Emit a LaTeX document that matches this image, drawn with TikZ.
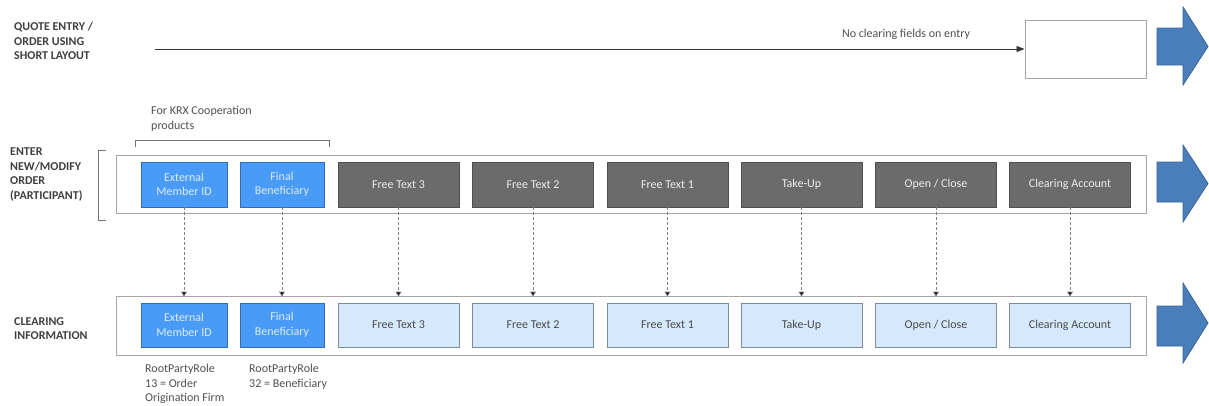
\documentclass[tikz,border=0pt]{standalone}
\usepackage{fontspec}
\setmainfont{Carlito}
\usetikzlibrary{arrows.meta}
\definecolor{bluefill}{HTML}{4A9AF8}
\definecolor{bluedraw}{HTML}{2E6DB8}
\definecolor{bluetext}{HTML}{DCEEFF}
\definecolor{greyfill}{HTML}{6B6B6B}
\definecolor{greydraw}{HTML}{4F4F4F}
\definecolor{greytext}{HTML}{EDEDED}
\definecolor{lightfill}{HTML}{D6E9FC}
\definecolor{lightdraw}{HTML}{7D8A99}
\definecolor{lighttext}{HTML}{4A4A4A}
\definecolor{outerdraw}{HTML}{A6A6A6}
\definecolor{arrowfill}{HTML}{4A7EBB}
\definecolor{arrowdraw}{HTML}{3A6597}
\definecolor{labeltext}{HTML}{3F3F3F}
\definecolor{plaintext}{HTML}{505050}
\begin{document}
\begin{tikzpicture}[x=1pt,y=-1pt,
  every node/.style={font=\fontsize{12}{14.5}\selectfont, inner sep=0pt},
  field/.style={rectangle, minimum height=45pt, align=center, line width=0.8pt},
  bluebox/.style={field, fill=bluefill, draw=bluedraw, text=bluetext},
  greybox/.style={field, fill=greyfill, draw=greydraw, text=greytext},
  lightbox/.style={field, fill=lightfill, draw=lightdraw, text=lighttext, minimum height=44pt},
  outer/.style={rectangle, draw=outerdraw, line width=1pt},
  rowlabel/.style={anchor=north west, align=left, text=labeltext, font=\fontsize{12}{14.5}\selectfont\bfseries},
  note/.style={anchor=north west, align=left, text=plaintext},
  bigarrow/.style={fill=arrowfill, draw=arrowdraw, line width=0.8pt, line join=miter},
  dashconn/.style={draw=gray, dash pattern=on 3pt off 2pt, line width=0.8pt, -{Triangle[width=6pt,length=5pt,fill=black]}, shorten >=6pt},
  brace/.style={draw=gray!90!black, line width=0.8pt}
]
\useasboundingbox (0,0) rectangle (1209,405);

% ---------- row 1: quote entry ----------
\node[rowlabel] (l1) at (14,22) {QUOTE ENTRY /\\ORDER USING\\SHORT LAYOUT};
\node[outer, minimum width=121pt, minimum height=58pt] (qbox) at (1085.5,49) {};
\coordinate (qstart) at (155,49);
\draw[line width=0.8pt, draw=black!80, -{Triangle[width=6pt,length=8pt]}] (qstart) -- (qbox.west);
\node[anchor=base, text=plaintext] (qlbl) at (906,37) {No clearing fields on entry};
\fill[bigarrow] (1157,28) -- (1183,28) -- (1183,7) -- (1208,46.5) -- (1183,85) -- (1183,65) -- (1157,65) -- cycle;

% ---------- row 2: enter new/modify order ----------
\node[note] (krx) at (151,106) {For KRX Cooperation\\products};
\draw[brace] (135,147) -- (135,140) -- (329,140) -- (329,147);
\node[rowlabel] (l2) at (10,148) {ENTER\\NEW/MODIFY\\ORDER\\(PARTICIPANT)};
\draw[brace] (106,150) -- (98,150) -- (98,220) -- (106,220);
\node[outer, minimum width=1030pt, minimum height=58pt] (orow) at (631,184) {};

\node[bluebox, minimum width=86pt] (a1) at (184,184.5) {External\\Member ID};
\node[bluebox, minimum width=84pt] (a2) at (282,184.5) {Final\\Beneficiary};
\node[greybox, minimum width=121pt] (a3) at (398.5,184.5) {Free Text 3};
\node[greybox, minimum width=121pt] (a4) at (533,184.5) {Free Text 2};
\node[greybox, minimum width=121pt] (a5) at (667.5,184.5) {Free Text 1};
\node[greybox, minimum width=121pt] (a6) at (801.5,184.5) {Take-Up};
\node[greybox, minimum width=121pt] (a7) at (936,184.5) {Open / Close};
\node[greybox, minimum width=121pt] (a8) at (1070,184.5) {Clearing Account};
\fill[bigarrow] (1157,162) -- (1183,162) -- (1183,145) -- (1208,183.5) -- (1183,222) -- (1183,202) -- (1157,202) -- cycle;

% ---------- row 3: clearing information ----------
\node[rowlabel] (l3) at (14,317) {CLEARING\\INFORMATION};
\node[outer, minimum width=1030pt, minimum height=59pt] (crow) at (631,325.5) {};

\node[bluebox, minimum width=86pt, minimum height=44pt] (b1) at (184,325) {External\\Member ID};
\node[bluebox, minimum width=84pt, minimum height=44pt] (b2) at (282,325) {Final\\Beneficiary};
\node[lightbox, minimum width=121pt] (b3) at (398.5,325) {Free Text 3};
\node[lightbox, minimum width=121pt] (b4) at (533,325) {Free Text 2};
\node[lightbox, minimum width=121pt] (b5) at (667.5,325) {Free Text 1};
\node[lightbox, minimum width=121pt] (b6) at (801.5,325) {Take-Up};
\node[lightbox, minimum width=121pt] (b7) at (936,325) {Open / Close};
\node[lightbox, minimum width=121pt] (b8) at (1070,325) {Clearing Account};
\fill[bigarrow] (1157,306) -- (1183,306) -- (1183,283) -- (1208,323) -- (1183,363) -- (1183,346) -- (1157,346) -- cycle;

\node[note] (n1) at (145,364) {RootPartyRole\\13 = Order\\Origination Firm};
\node[note] (n2) at (249,364) {RootPartyRole\\32 = Beneficiary};

% ---------- connectors ----------
\foreach \i in {1,...,8} {
  \draw[dashconn] (a\i.south) -- (b\i.north);
}
\end{tikzpicture}
\end{document}
